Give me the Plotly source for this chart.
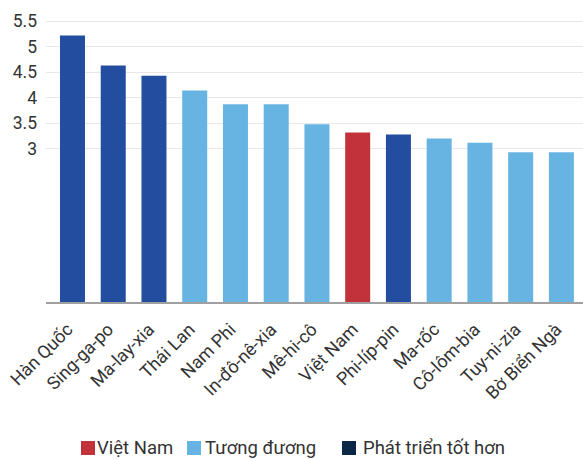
import plotly.graph_objects as go

categories = ["Hàn Quốc", "Sing-ga-po", "Ma-lay-xia", "Thái Lan", "Nam Phi", "In-đô-nê-xia",
              "Mê-hi-cô", "Việt Nam", "Phi-líp-pin", "Ma-rốc", "Cô-lôm-bia", "Tuy-ni-zia", "Bờ Biển Ngà"]
values = [5.22, 4.63, 4.43, 4.14, 3.87, 3.87, 3.48, 3.32, 3.28, 3.20, 3.12, 2.93, 2.93]
groups = ["better", "better", "better", "peer", "peer", "peer", "peer", "vn", "better",
          "peer", "peer", "peer", "peer"]
tick_vals = [3, 3.5, 4, 4.5, 5, 5.5]
tick_text = ["3", "3.5", "4", "4.5", "5", "5.5"]
legend_names = ["Việt Nam", "Tương đương", "Phát triển tốt hơn"]

bar_colors = {"better": "#234EA0", "peer": "#67B4E3", "vn": "#C1323A"}
legend_colors = ["#C1323A", "#67B4E3", "#0B2747"]

FONT = "Roboto, Liberation Sans, Arial, sans-serif"
W, H = 583, 459
ML, MR, MT, MB = 46, 0, 16, 157

fig = go.Figure()
fig.add_trace(go.Bar(
    x=categories, y=values,
    marker=dict(color=[bar_colors[g] for g in groups], line=dict(width=0)),
    width=0.614, showlegend=False,
))

# legend drawn as squares + labels below the plot (layout positions in pixels)
def px_x(p):
    return (p - ML) / (W - ML - MR)

def px_y(p):
    return (H - MB - p) / (H - MT - MB)

legend_square_left = [81, 187, 342]
legend_text_left = [97, 205, 363]
legend_center_y = 448
sq = 14
for name, col, left, tleft in zip(legend_names, legend_colors, legend_square_left, legend_text_left):
    fig.add_shape(type="rect", xref="paper", yref="paper",
                  x0=px_x(left), x1=px_x(left + sq),
                  y0=px_y(legend_center_y + sq / 2), y1=px_y(legend_center_y - sq / 2),
                  fillcolor=col, line=dict(width=0))
    fig.add_annotation(xref="paper", yref="paper", x=px_x(tleft), y=px_y(legend_center_y),
                       xanchor="left", yanchor="middle", text=name, showarrow=False,
                       borderpad=0, borderwidth=0,
                       font=dict(size=18.5, color="#333333", family=FONT))

fig.update_layout(
    width=W, height=H,
    margin=dict(l=ML, r=MR, t=MT, b=MB, pad=0),
    paper_bgcolor="white", plot_bgcolor="white",
    font=dict(family=FONT, color="#333333"),
    showlegend=False,
)
fig.update_xaxes(
    type="category", range=[-0.65, 12.53], automargin=False,
    tickangle=-45, tickfont=dict(size=18, color="#333333"),
    showline=True, linecolor="#A0A0A0", linewidth=1.5,
    showgrid=False, ticks="", fixedrange=True, ticklabelstandoff=8, ticklabelshift=-5,
)
fig.update_yaxes(
    range=[0, 5.6], tickvals=tick_vals, ticktext=tick_text, automargin=False,
    tickfont=dict(size=17.5, color="#333333"),
    showgrid=True, gridcolor="#E8E8E8", gridwidth=1.3,
    zeroline=False, showline=False, ticks="", ticklabelstandoff=8,
)
fig.write_html("out.html", config={"displayModeBar": False},
               post_script="document.body.style.margin='0';document.body.style.overflow='hidden';")
